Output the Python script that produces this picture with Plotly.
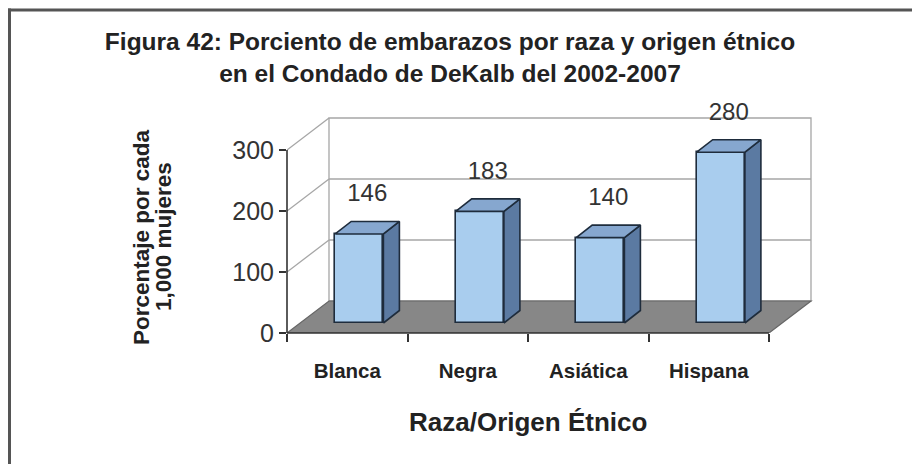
import plotly.graph_objects as go

# ---- data ----
categories = ["Blanca", "Negra", "Asiática", "Hispana"]
values = [146, 183, 140, 280]
y_ticks = [0, 100, 200, 300]
y_tick_labels = ["0", "100", "200", "300"]
title_lines = ["Figura 42: Porciento de embarazos por raza y origen étnico",
               "en el Condado de DeKalb del 2002-2007"]
y_title_lines = ["Porcentaje por cada", "1,000 mujeres"]
x_title = "Raza/Origen Étnico"

# ---- layout geometry (pixels) ----
W, H = 912, 464
L, T, R, B = 287, 100, 840, 333      # plot area edges in pixels
PX_X = 120.5                          # px per category
PX_Y = 0.61                           # px per value unit
x_max = (R - L) / PX_X
y_max = (B - T) / PX_Y

DX, DY = 42 / PX_X, 32 / PX_Y         # 3D wall depth
BW, BX0 = 0.4, 0.4                    # bar width / offset in category
B0 = 10 / PX_Y                        # bar base lift (depth position)
BDX, BDY = 16 / PX_X, 12.5 / PX_Y     # bar depth
LABEL_GAP = 26 / PX_Y
n = len(categories)
vmax = y_ticks[-1]

FONT = "Arial, Liberation Sans, sans-serif"
FRONT, SIDE, TOP = "#A9CDEE", "#5B7AA2", "#86A7CF"
EDGE = "#1E2C3C"
GRID = "#A6A6A6"
FLOOR = "#878787"

def px2paper_x(p):
    return (p - L) / (R - L)

def px2paper_y(p):
    return (B - p) / (B - T)

fig = go.Figure()

# front faces of bars
fig.add_trace(go.Bar(
    x=[i + BX0 + BW / 2 for i in range(n)], y=values, base=B0, width=BW,
    marker=dict(color=FRONT, line=dict(color=EDGE, width=1.6)),
    hoverinfo="skip", showlegend=False))

# side and top faces
sx, sy = [], []
tx, ty = [], []
for i, v in enumerate(values):
    x0 = i + BX0
    x1 = x0 + BW
    sx += [x1, x1 + BDX, x1 + BDX, x1, x1, None]
    sy += [B0, B0 + BDY, v + B0 + BDY, v + B0, B0, None]
    tx += [x0, x1, x1 + BDX, x0 + BDX, x0, None]
    ty += [v + B0, v + B0, v + B0 + BDY, v + B0 + BDY, v + B0, None]
fig.add_trace(go.Scatter(x=sx, y=sy, mode="lines", fill="toself", fillcolor=SIDE,
                         line=dict(color=EDGE, width=1.6), hoverinfo="skip", showlegend=False))
fig.add_trace(go.Scatter(x=tx, y=ty, mode="lines", fill="toself", fillcolor=TOP,
                         line=dict(color=EDGE, width=1.6), hoverinfo="skip", showlegend=False))

# data labels
fig.add_trace(go.Scatter(
    x=[i + BX0 + BW / 2 + BDX / 2 for i in range(n)],
    y=[v + B0 + BDY + LABEL_GAP for v in values],
    text=[str(v) for v in values], mode="text",
    textfont=dict(family=FONT, size=24, color="#333333"),
    hoverinfo="skip", showlegend=False, cliponaxis=False))

shapes = []
# back wall
shapes.append(dict(type="path", xref="x", yref="y", layer="below",
                   path=f"M{DX},{DY} L{n + DX},{DY} L{n + DX},{vmax + DY} L{DX},{vmax + DY} Z",
                   fillcolor="white", line=dict(color=GRID, width=1.3)))
# back wall gridlines and left wall diagonals
for t in y_ticks:
    if 0 < t < vmax:
        shapes.append(dict(type="line", xref="x", yref="y", layer="below",
                           x0=DX, y0=t + DY, x1=n + DX, y1=t + DY,
                           line=dict(color=GRID, width=1.3)))
    if t > 0:
        shapes.append(dict(type="line", xref="x", yref="y", layer="below",
                           x0=0, y0=t, x1=DX, y1=t + DY,
                           line=dict(color=GRID, width=1.3)))
# floor
shapes.append(dict(type="path", xref="x", yref="y", layer="below",
                   path=f"M0,0 L{n},0 L{n + DX},{DY} L{DX},{DY} Z",
                   fillcolor=FLOOR, line=dict(color="#666666", width=1.2)))
# front axis lines
shapes.append(dict(type="line", xref="x", yref="paper", x0=0, x1=n, y0=0, y1=0,
                   line=dict(color="#333333", width=1.6)))
shapes.append(dict(type="line", xref="paper", yref="y", x0=0, x1=0, y0=0, y1=vmax,
                   line=dict(color="#333333", width=1.6)))
# outer frame (top and left)
shapes.append(dict(type="line", xref="paper", yref="paper",
                   x0=px2paper_x(8), x1=px2paper_x(W + 5), y0=px2paper_y(10), y1=px2paper_y(10),
                   line=dict(color="#555555", width=3)))
shapes.append(dict(type="line", xref="paper", yref="paper",
                   x0=px2paper_x(9.5), x1=px2paper_x(9.5), y0=px2paper_y(8.5), y1=px2paper_y(H + 5),
                   line=dict(color="#555555", width=3)))

annotations = [
    dict(text="<b>" + x_title + "</b>", xref="paper", yref="paper",
         x=px2paper_x(528), y=px2paper_y(422), xanchor="center", yanchor="middle",
         showarrow=False, font=dict(family=FONT, size=26, color="#222222")),
]
for line, xp in zip(y_title_lines, [141, 163]):
    annotations.append(dict(text="<b>" + line + "</b>", xref="paper", yref="paper",
                            x=px2paper_x(xp), y=px2paper_y(237), xanchor="center", yanchor="middle",
                            textangle=-90, showarrow=False,
                            font=dict(family=FONT, size=22.5, color="#222222")))

fig.update_layout(
    width=W, height=H, autosize=False,
    margin=dict(l=L, r=W - R, t=T, b=H - B, pad=0),
    paper_bgcolor="white", plot_bgcolor="rgba(0,0,0,0)",
    title=dict(text="<b>" + "<br>".join(title_lines) + "</b>",
               x=450 / W, xanchor="center", y=1 - 50 / H, yanchor="middle",
               font=dict(family=FONT, size=24.5, color="#222222")),
    shapes=shapes, annotations=annotations,
    showlegend=False, bargap=0,
    xaxis=dict(range=[0, x_max], showgrid=False, zeroline=False, showline=False,
               tickmode="array", tickvals=[i + 0.5 for i in range(n)], ticktext=categories,
               ticks="outside", ticklen=19, tickcolor="rgba(0,0,0,0)",
               tickfont=dict(family=FONT, size=20.5, color="#222222", weight="bold"),
               minor=dict(tickmode="array", tickvals=list(range(n + 1)), ticks="outside",
                          ticklen=8, tickwidth=1.5, tickcolor="#333333"),
               fixedrange=True),
    yaxis=dict(range=[0, y_max], showgrid=False, zeroline=False, showline=False,
               tickmode="array", tickvals=y_ticks, ticktext=y_tick_labels,
               ticks="outside", ticklen=7, tickwidth=1.5, tickcolor="#333333",
               tickfont=dict(family=FONT, size=25, color="#333333"),
               fixedrange=True),
)

fig.write_html("out.html", config={"displayModeBar": False},
               post_script="document.body.style.margin='0';document.body.style.overflow='hidden';")
